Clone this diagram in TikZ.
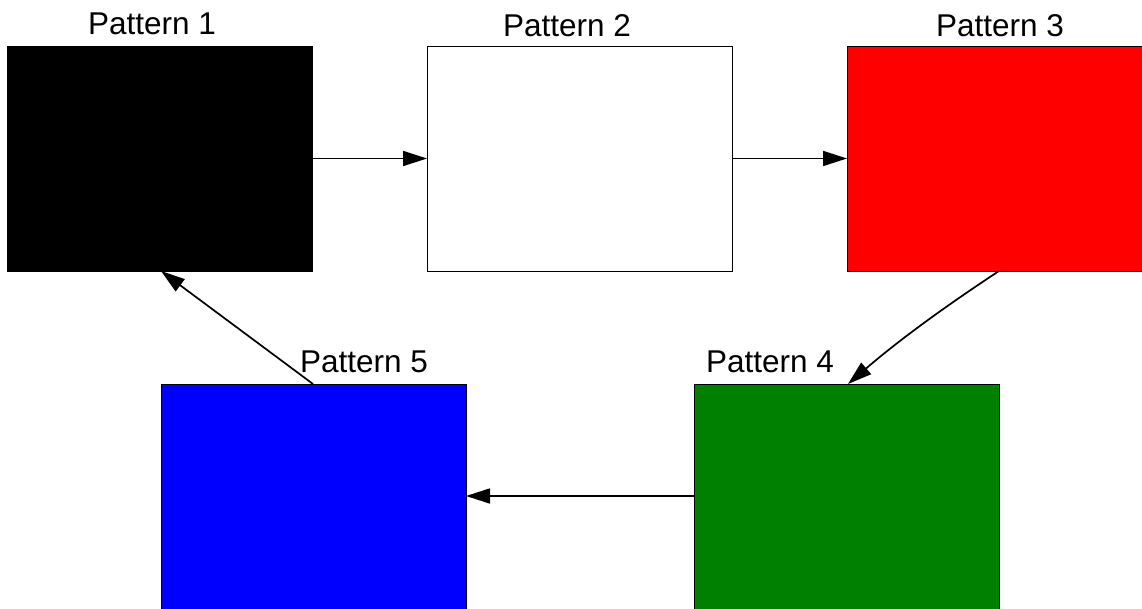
\documentclass[tikz,border=0pt]{standalone}
\usepackage{fontspec}
\setmainfont{Liberation Sans}
\usetikzlibrary{arrows.meta}
\definecolor{pgreen}{RGB}{0,128,0}
\tikzset{
  x=1pt,y=1pt,
  patbox/.style={draw=black, line width=0.8pt, minimum width=305pt, minimum height=225pt, inner sep=0pt, outer sep=0pt, anchor=north west},
  patlabel/.style={font=\fontsize{31.5}{36}\selectfont, anchor=base, inner sep=0pt},
  flow/.style={line width=1.7pt, -{Triangle[length=24pt,width=15pt]}},
}
\begin{document}
\begin{tikzpicture}
\useasboundingbox (0,0) rectangle (1142,-609);
\node[patbox, fill=black] (p1) at (7,-46) {};
\node[patbox, fill=white] (p2) at (427,-46) {};
\node[patbox, fill=red, minimum width=300pt] (p3) at (847,-46) {};
\node[patbox, fill=pgreen, minimum height=230pt] (p4) at (694,-384) {};
\node[patbox, fill=blue, minimum height=230pt] (p5) at (161,-384) {};
\node[patlabel] (l1) at (152,-35) {Pattern 1};
\node[patlabel] (l2) at (567,-37) {Pattern 2};
\node[patlabel] (l3) at (1000,-37) {Pattern 3};
\node[patlabel] (l4) at (770,-372) {Pattern 4};
\node[patlabel] (l5) at (364,-372) {Pattern 5};
\coordinate (s3) at (999,-271);
\coordinate (e4) at (848,-384);
\coordinate (s5) at (313,-384);
\coordinate (e1) at (161,-271);
\draw[flow] (p1.east) -- (p2.west);
\draw[flow] (p2.east) -- (p3.west |- p2.east);
\draw[flow] (s3) .. controls (955,-300) and (905,-335) .. (e4);
\draw[flow] (p4.west |- 0,-496) -- (p5.east |- 0,-496);
\draw[flow] (s5) -- (e1);
\end{tikzpicture}
\end{document}
